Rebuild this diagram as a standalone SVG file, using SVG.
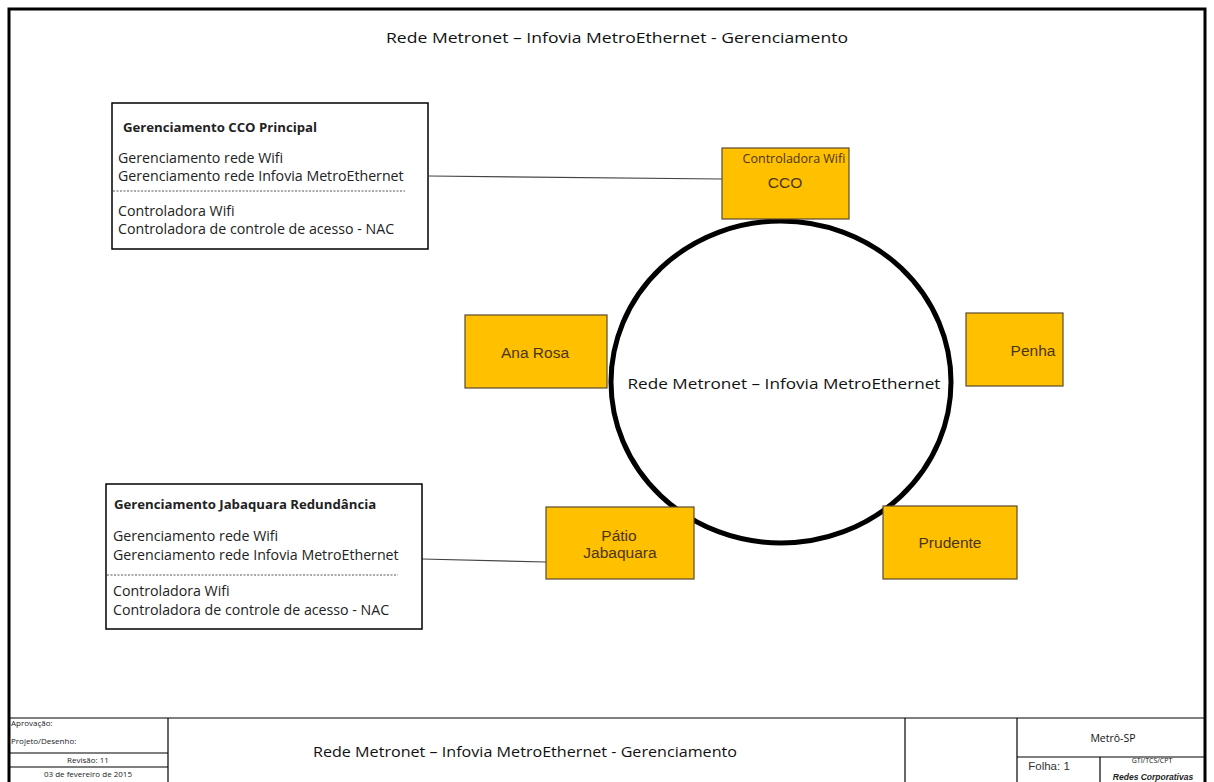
<svg xmlns="http://www.w3.org/2000/svg" width="1214" height="782" viewBox="0 0 1214 782">
<style>
.frame{fill:none;stroke:#000;stroke-width:3}
.tb{fill:none;stroke:#000;stroke-width:1.2}
.node{fill:#FFC000;stroke:#5a4a30;stroke-width:1.2}
.box{fill:#fff;stroke:#000;stroke-width:1.5}
.lbl{font-family:"Liberation Sans",Arial,sans-serif;font-size:15.5px;fill:#4a3510;text-anchor:middle}
.os{font-family:"Open Sans","Liberation Sans",sans-serif;fill:#222}
.bt{font-size:14.2px}
.ttl{font-family:"Open Sans","Liberation Sans",sans-serif;fill:#111;text-anchor:middle}
.conn{stroke:#444;stroke-width:1.2;fill:none}
</style>
<rect x="0" y="0" width="1214" height="782" fill="#fff"/>
<g id="frame">
<rect class="frame" x="9" y="9" width="1196" height="790"/>
<text class="ttl" x="617" y="43" font-size="15" textLength="462" lengthAdjust="spacingAndGlyphs">Rede Metronet – Infovia MetroEthernet - Gerenciamento</text>
</g>
<g id="titleblock">
<line class="tb" x1="9" y1="718" x2="1205" y2="718"/>
<line class="tb" x1="168" y1="718" x2="168" y2="782"/>
<line class="tb" x1="905" y1="718" x2="905" y2="782"/>
<line class="tb" x1="1017" y1="718" x2="1017" y2="782"/>
<line class="tb" x1="1017" y1="757" x2="1205" y2="757"/>
<line class="tb" x1="1100" y1="757" x2="1100" y2="782"/>
<line class="tb" x1="9" y1="753" x2="168" y2="753"/>
<line class="tb" x1="9" y1="767" x2="168" y2="767"/>
<text class="os" x="11" y="726" font-size="8" fill="#444">Aprovação:</text>
<text class="os" x="11" y="744" font-size="8" fill="#444">Projeto/Desenho:</text>
<text class="os" x="88" y="763" font-size="8" fill="#555" text-anchor="middle">Revisão: 11</text>
<text class="os" x="88" y="777" font-size="8" fill="#555" text-anchor="middle">03 de fevereiro de 2015</text>
<text class="ttl" x="525" y="757" font-size="14" textLength="424" lengthAdjust="spacingAndGlyphs">Rede Metronet – Infovia MetroEthernet - Gerenciamento</text>
<text class="ttl" x="1113" y="742" font-size="10.5" fill="#333">Metrô-SP</text>
<text x="1049" y="770" font-family="Liberation Sans,Arial,sans-serif" font-size="11.5" fill="#333" text-anchor="middle">Folha: 1</text>
<text class="ttl" x="1152" y="763" font-size="7" fill="#444">GTI/TCS/CPT</text>
<text x="1153" y="780" font-family="Liberation Sans,Arial,sans-serif" font-size="8.5" font-weight="bold" font-style="italic" fill="#222" text-anchor="middle">Redes Corporativas</text>
</g>
<g id="connectors">
<line class="conn" x1="429" y1="176" x2="722" y2="179"/>
<line class="conn" x1="422" y1="559" x2="546" y2="562"/>
</g>
<g id="ring">
<ellipse cx="781" cy="382" rx="170" ry="161" fill="none" stroke="#000" stroke-width="5"/>
<text class="ttl" x="784" y="389" font-size="14" fill="#222" textLength="313" lengthAdjust="spacingAndGlyphs">Rede Metronet – Infovia MetroEthernet</text>
</g>
<g id="node-cco">
<rect class="node" x="722" y="148" width="127" height="71"/>
<text x="794" y="163" font-family="Open Sans,Liberation Sans,sans-serif" font-size="12.5" fill="#4a3510" text-anchor="middle">Controladora Wifi</text>
<text class="lbl" x="785" y="188" font-size="14">CCO</text>
</g>
<g id="node-anarosa">
<rect class="node" x="465" y="315" width="142" height="73"/>
<text class="lbl" x="535" y="358">Ana Rosa</text>
</g>
<g id="node-penha">
<rect class="node" x="966" y="313" width="97" height="73"/>
<text class="lbl" x="1033" y="356">Penha</text>
</g>
<g id="node-patio">
<rect class="node" x="546" y="507" width="148" height="72"/>
<text class="lbl" x="619" y="541">Pátio</text>
<text class="lbl" x="620" y="558">Jabaquara</text>
</g>
<g id="node-prudente">
<rect class="node" x="883" y="506" width="134" height="73"/>
<text class="lbl" x="950" y="548">Prudente</text>
</g>
<g id="box-cco-principal">
<rect class="box" x="112" y="103" width="316" height="146"/>
<text class="os" x="123" y="132" font-size="13.2" font-weight="bold" fill="#111">Gerenciamento CCO Principal</text>
<text class="os bt" x="118" y="163">Gerenciamento rede Wifi</text>
<text class="os bt" x="118" y="181">Gerenciamento rede Infovia MetroEthernet</text>
<line x1="113" y1="191" x2="405" y2="191" stroke="#555" stroke-width="1" stroke-dasharray="2,1.5"/>
<text class="os bt" x="118" y="216">Controladora Wifi</text>
<text class="os bt" x="118" y="234">Controladora de controle de acesso - NAC</text>
</g>
<g id="box-jabaquara">
<rect class="box" x="106" y="484" width="316" height="145"/>
<text class="os" x="114" y="509" font-size="13.2" font-weight="bold" fill="#111">Gerenciamento Jabaquara Redundância</text>
<text class="os bt" x="113" y="541">Gerenciamento rede Wifi</text>
<text class="os bt" x="113" y="560">Gerenciamento rede Infovia MetroEthernet</text>
<line x1="107" y1="575" x2="398" y2="575" stroke="#555" stroke-width="1" stroke-dasharray="2,1.5"/>
<text class="os bt" x="113" y="596">Controladora Wifi</text>
<text class="os bt" x="113" y="615">Controladora de controle de acesso - NAC</text>
</g>
</svg>
